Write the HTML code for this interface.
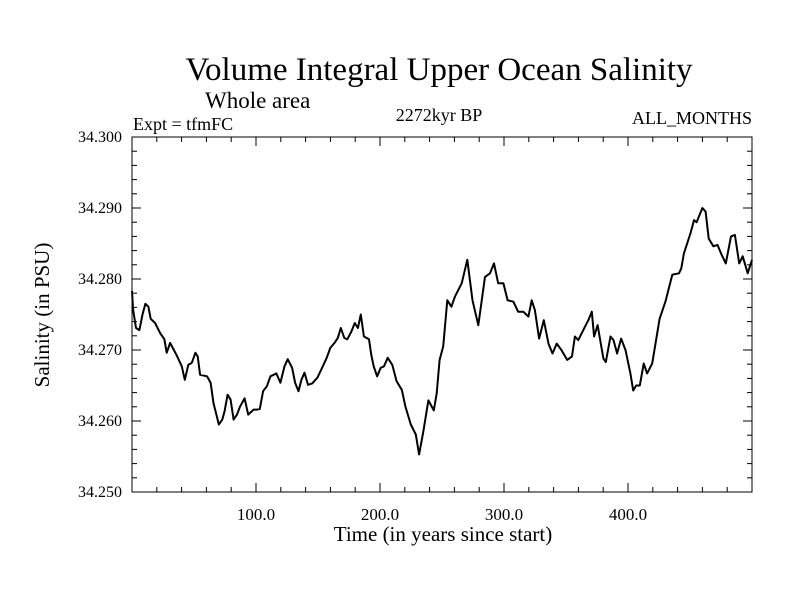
<!DOCTYPE html>
<html><head><meta charset="utf-8"><style>
body{margin:0;background:#fff}
svg text{font-family:"Liberation Serif",serif;fill:#000}
</style></head><body>
<svg id="chart" width="800" height="600" xmlns="http://www.w3.org/2000/svg">
<text x="439" y="80" font-size="33" text-anchor="middle">Volume Integral Upper Ocean Salinity</text>
<text x="205" y="108" font-size="23">Whole area</text>
<text x="133" y="130" font-size="18">Expt = tfmFC</text>
<text x="439" y="121" font-size="18" text-anchor="middle">2272kyr BP</text>
<text x="752" y="124" font-size="18" text-anchor="end">ALL_MONTHS</text>
<text transform="translate(49,315) rotate(-90)" font-size="21" text-anchor="middle">Salinity (in PSU)</text>
<text x="443" y="541" font-size="21" text-anchor="middle">Time (in years since start)</text>
<g id="axes"></g>
<path id="series" fill="none" stroke="#000" stroke-width="2" stroke-linejoin="round"/>
<rect x="132" y="137" width="620" height="355" fill="none" stroke="#000" stroke-width="1"/>
</svg>
<script>
const years=[0,0.9,3.2,6.0,8.5,10.8,13.2,15.1,18.6,22.7,26.1,28.0,30.7,35.9,40.2,42.6,45.4,48.2,51.1,53.0,54.9,60.5,63.4,65.7,68.1,70.0,72.8,74.7,77.1,79.5,81.9,84.7,87.0,90.8,93.7,98.1,100.7,103.1,105.7,108.8,111.6,114.3,116.4,119.7,123.0,125.6,129.1,131.5,134.3,136.6,139.1,141.9,145.3,149.5,153.3,157.0,159.9,163.3,166.0,168.4,171.2,173.6,176.9,179.7,182.2,184.5,187.0,191.1,193.0,194.9,197.7,200.6,203.2,206.2,209.9,213.4,217.6,220.4,224.8,228.9,231.5,234.9,239.0,243.4,245.7,248.1,251.0,254.3,257.6,260.4,265.9,270.4,274.6,279.3,284.7,288.7,291.9,295.3,299.5,302.9,307.6,311.4,315.6,319.7,322.3,324.9,328.3,332.1,335.9,339.1,342.5,346.3,351.0,354.8,357.2,359.9,364.5,368.0,370.8,372.7,375.5,380.2,382.1,385.9,388.3,391.2,394.4,398.0,401.9,404.2,406.6,409.5,412.7,415.4,419.5,422.2,425.5,430.2,435.7,441.1,443.0,445.1,450.5,453.2,455.3,460.0,462.6,465.1,468.9,472.2,475.0,478.9,483.1,486.2,489.7,492.5,496.5,500];
const salinity=[34.2783,34.2757,34.2731,34.2728,34.2750,34.2765,34.2761,34.2744,34.2738,34.2724,34.2715,34.2696,34.2710,34.2693,34.2677,34.2658,34.2679,34.2682,34.2696,34.2691,34.2665,34.2663,34.2654,34.2625,34.2609,34.2595,34.2602,34.2614,34.2637,34.2630,34.2602,34.2609,34.2620,34.2632,34.2609,34.2616,34.2616,34.2617,34.2642,34.2649,34.2663,34.2665,34.2667,34.2654,34.2677,34.2687,34.2675,34.2654,34.2642,34.2658,34.2668,34.2651,34.2653,34.2661,34.2675,34.2689,34.2703,34.2710,34.2717,34.2731,34.2717,34.2715,34.2726,34.2738,34.2731,34.2750,34.2719,34.2715,34.2693,34.2677,34.2663,34.2675,34.2677,34.2689,34.2679,34.2656,34.2644,34.2621,34.2595,34.2581,34.2553,34.2585,34.2629,34.2615,34.2639,34.2686,34.2705,34.2770,34.2761,34.2775,34.2794,34.2827,34.2770,34.2735,34.2803,34.2808,34.2822,34.2794,34.2794,34.2770,34.2768,34.2754,34.2754,34.2747,34.2770,34.2756,34.2716,34.2742,34.2709,34.2695,34.2709,34.2700,34.2686,34.2691,34.2719,34.2714,34.2730,34.2742,34.2754,34.2719,34.2735,34.2688,34.2683,34.2719,34.2714,34.2695,34.2716,34.2700,34.2667,34.2643,34.2650,34.2650,34.2681,34.2667,34.2681,34.2709,34.2744,34.2768,34.2806,34.2808,34.2815,34.2836,34.2865,34.2883,34.2880,34.2900,34.2895,34.2857,34.2846,34.2848,34.2836,34.2822,34.2860,34.2862,34.2822,34.2832,34.2808,34.2827];
const xTicks=[100,200,300,400];
const xTickLabels=["100.0","200.0","300.0","400.0"];
const yTicks=[34.25,34.26,34.27,34.28,34.29,34.30];
const yTickLabels=["34.250","34.260","34.270","34.280","34.290","34.300"];
const X0=132,X1=752,Y0=137,Y1=492,XMIN=0,XMAX=500,YMIN=34.25,YMAX=34.30;
const sx=v=>X0+(v-XMIN)/(XMAX-XMIN)*(X1-X0);
const sy=v=>Y1-(v-YMIN)/(YMAX-YMIN)*(Y1-Y0);
const NS="http://www.w3.org/2000/svg";
const axes=document.getElementById('axes');
function line(x1,y1,x2,y2,name){const l=document.createElementNS(NS,'line');
l.setAttribute('x1',x1);l.setAttribute('y1',y1);l.setAttribute('x2',x2);l.setAttribute('y2',y2);
l.setAttribute('stroke','#000');l.setAttribute('stroke-width','1');


axes.appendChild(l);}
for(let v=20;v<XMAX;v+=20){const x=sx(v);const major=v%100===0;const L=major?9:5;
line(x,Y1,x,Y1-L,'x-tick');line(x,Y0,x,Y0+L,'x-tick-top');}
for(let i=1;i<25;i++){const v=YMIN+i*0.002;const y=sy(v);const major=i%5===0;const L=major?9:5;
line(X0,y,X0+L,y,'y-tick');line(X1,y,X1-L,y,'y-tick-right');}
xTicks.forEach((v,i)=>{const t=document.createElementNS(NS,'text');
t.setAttribute('x',sx(v));t.setAttribute('y',Y1+28);t.setAttribute('font-size','17');t.setAttribute('text-anchor','middle');
t.textContent=xTickLabels[i];


axes.appendChild(t);});
yTicks.forEach((v,i)=>{const t=document.createElementNS(NS,'text');
t.setAttribute('x',X0-10);t.setAttribute('y',sy(v)+5);t.setAttribute('font-size','16');t.setAttribute('text-anchor','end');
t.textContent=yTickLabels[i];


axes.appendChild(t);});
document.getElementById('series').setAttribute('d',years.map((v,i)=>(i?'L':'M')+sx(v).toFixed(1)+','+sy(salinity[i]).toFixed(1)).join(''));
</script>
</body></html>
